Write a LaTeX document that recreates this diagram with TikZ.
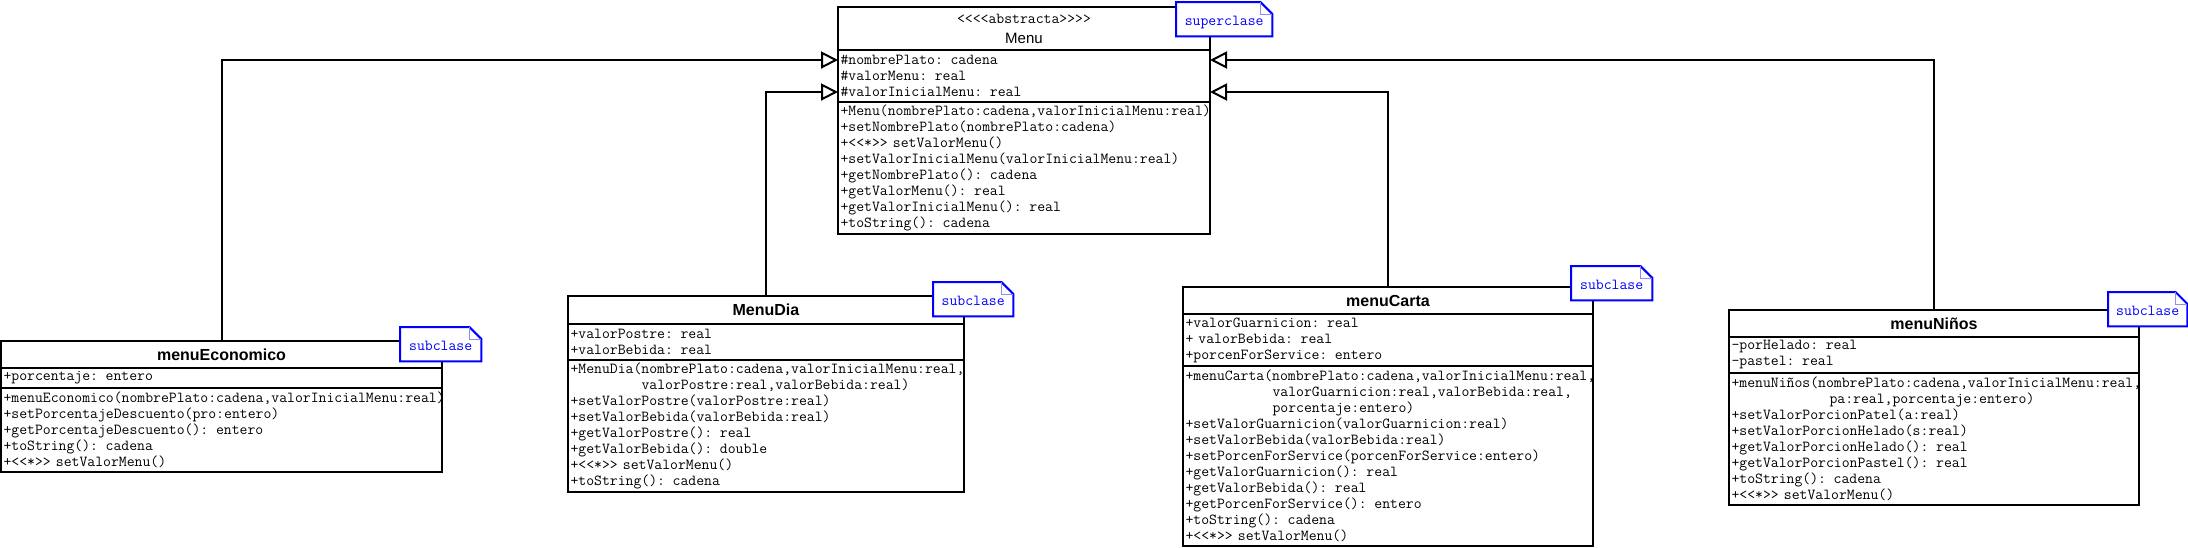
\documentclass[tikz,border=0pt]{standalone}
\usepackage{fontspec}
\setsansfont{Liberation Sans}
\setmonofont{Latin Modern Mono}
\usepackage{tikz}
\usetikzlibrary{arrows.meta}
\usetikzlibrary{positioning}

\begin{document}
\begin{tikzpicture}[x=1pt,y=-1pt,
  tit/.style={draw,line width=2pt,outer sep=0pt,inner sep=0pt,align=center,font=\sffamily\bfseries\fontsize{16}{19}\selectfont},
  part/.style={draw,line width=2pt,outer sep=0pt,inner xsep=2.5pt,inner ysep=0pt,align=left,font=\ttfamily\fontsize{15.3}{16}\selectfont},
  note/.style={fill=white,inner sep=0pt,minimum height=34pt,text height=12pt,text depth=0pt,text=blue,font=\ttfamily\fontsize{15.3}{16}\selectfont},
  notebox/.style={draw=blue,line width=2pt},
  fold/.style={draw=blue!45,line width=1pt},
  herencia/.style={line width=2pt,-{Triangle[open,length=17pt,width=17pt]}}]
\useasboundingbox (0,0) rectangle (2188,547);

% superclase
\node[tit,minimum width=372pt,minimum height=43pt,anchor=north west,font=\sffamily\fontsize{15}{18}\selectfont] (MT) at (838,7) {{\ttfamily\fontsize{15.3}{16}\selectfont <<<<abstracta>>>>}\\[2pt]Menu};
\node[part,text width=367pt,minimum height=52pt,below=0pt of MT] (MA) {\#nombrePlato: cadena\\\#valorMenu: real\\\#valorInicialMenu: real};
\node[part,text width=367pt,minimum height=132pt,below=0pt of MA] (MM) {+Menu(nombrePlato:cadena,valorInicialMenu:real)\\+setNombrePlato(nombrePlato:cadena)\\+<<*>> setValorMenu()\\+setValorInicialMenu(valorInicialMenu:real)\\+getNombrePlato(): cadena\\+getValorMenu(): real\\+getValorInicialMenu(): real\\+toString(): cadena};

% subclases
\node[tit,minimum width=441pt,minimum height=27pt,anchor=north west] (ECt) at (1,341) {menuEconomico};
\node[part,text width=436pt,minimum height=20pt,below=0pt of ECt] (ECa) {+porcentaje: entero};
\node[part,text width=436pt,minimum height=84pt,below=0pt of ECa] (ECm) {+menuEconomico(nombrePlato:cadena,valorInicialMenu:real)\\+setPorcentajeDescuento(pro:entero)\\+getPorcentajeDescuento(): entero\\+toString(): cadena\\+<<*>> setValorMenu()};

\node[tit,minimum width=396pt,minimum height=28pt,anchor=north west] (DIt) at (568,296) {MenuDia};
\node[part,text width=391pt,minimum height=36pt,below=0pt of DIt] (DIa) {+valorPostre: real\\+valorBebida: real};
\node[part,text width=391pt,minimum height=132pt,below=0pt of DIa] (DIm) {+MenuDia(nombrePlato:cadena,valorInicialMenu:real,\\\hspace*{71pt}valorPostre:real,valorBebida:real)\\+setValorPostre(valorPostre:real)\\+setValorBebida(valorBebida:real)\\+getValorPostre(): real\\+getValorBebida(): double\\+<<*>> setValorMenu()\\+toString(): cadena};

\node[tit,minimum width=410pt,minimum height=27pt,anchor=north west] (CAt) at (1183,287) {menuCarta};
\node[part,text width=405pt,minimum height=52pt,below=0pt of CAt] (CAa) {+valorGuarnicion: real\\+ valorBebida: real\\+porcenForService: entero};
\node[part,text width=405pt,minimum height=180pt,below=0pt of CAa] (CAm) {+menuCarta(nombrePlato:cadena,valorInicialMenu:real,\\\hspace*{87pt}valorGuarnicion:real,valorBebida:real,\\\hspace*{87pt}porcentaje:entero)\\+setValorGuarnicion(valorGuarnicion:real)\\+setValorBebida(valorBebida:real)\\+setPorcenForService(porcenForService:entero)\\+getValorGuarnicion(): real\\+getValorBebida(): real\\+getPorcenForService(): entero\\+toString(): cadena\\+<<*>> setValorMenu()};

\node[tit,minimum width=410pt,minimum height=27pt,anchor=north west] (NIt) at (1729,310) {menuNiños};
\node[part,text width=405pt,minimum height=36pt,below=0pt of NIt] (NIa) {-porHelado: real\\-pastel: real};
\node[part,text width=405pt,minimum height=132pt,below=0pt of NIa] (NIm) {+menuNiños(nombrePlato:cadena,valorInicialMenu:real,\\\hspace*{98pt}pa:real,porcentaje:entero)\\+setValorPorcionPatel(a:real)\\+setValorPorcionHelado(s:real)\\+getValorPorcionHelado(): real\\+getValorPorcionPastel(): real\\+toString(): cadena\\+<<*>> setValorMenu()};

% herencia
\draw[herencia] (ECt.north) |- ([yshift=16pt]MA.west);
\draw[herencia] (DIt.north) |- ([yshift=-16pt]MA.west);
\draw[herencia] (CAt.north) |- ([yshift=-16pt]MA.east);
\draw[herencia] (NIt.north) |- ([yshift=16pt]MA.east);

% notas
\node[note,minimum width=96pt,anchor=north west] (MN) at (1176,2) {superclase};
\node[note,minimum width=81pt,anchor=north west] (ECn) at (400,327) {subclase};
\node[note,minimum width=80pt,anchor=north west] (DIn) at (933,282) {subclase};
\node[note,minimum width=81pt,anchor=north west] (CAn) at (1571,266) {subclase};
\node[note,minimum width=79pt,anchor=north west] (NIn) at (2108,292) {subclase};

\draw[notebox] (MN.north west) -- ([xshift=-12pt]MN.north east) -- ([yshift=-12pt]MN.north east) -- (MN.south east) -- (MN.south west) -- cycle;
\draw[fold] ([xshift=-12pt]MN.north east) |- ([yshift=-12pt]MN.north east);
\draw[notebox] (ECn.north west) -- ([xshift=-12pt]ECn.north east) -- ([yshift=-12pt]ECn.north east) -- (ECn.south east) -- (ECn.south west) -- cycle;
\draw[fold] ([xshift=-12pt]ECn.north east) |- ([yshift=-12pt]ECn.north east);
\draw[notebox] (DIn.north west) -- ([xshift=-12pt]DIn.north east) -- ([yshift=-12pt]DIn.north east) -- (DIn.south east) -- (DIn.south west) -- cycle;
\draw[fold] ([xshift=-12pt]DIn.north east) |- ([yshift=-12pt]DIn.north east);
\draw[notebox] (CAn.north west) -- ([xshift=-12pt]CAn.north east) -- ([yshift=-12pt]CAn.north east) -- (CAn.south east) -- (CAn.south west) -- cycle;
\draw[fold] ([xshift=-12pt]CAn.north east) |- ([yshift=-12pt]CAn.north east);
\draw[notebox] (NIn.north west) -- ([xshift=-12pt]NIn.north east) -- ([yshift=-12pt]NIn.north east) -- (NIn.south east) -- (NIn.south west) -- cycle;
\draw[fold] ([xshift=-12pt]NIn.north east) |- ([yshift=-12pt]NIn.north east);
\end{tikzpicture}
\end{document}
